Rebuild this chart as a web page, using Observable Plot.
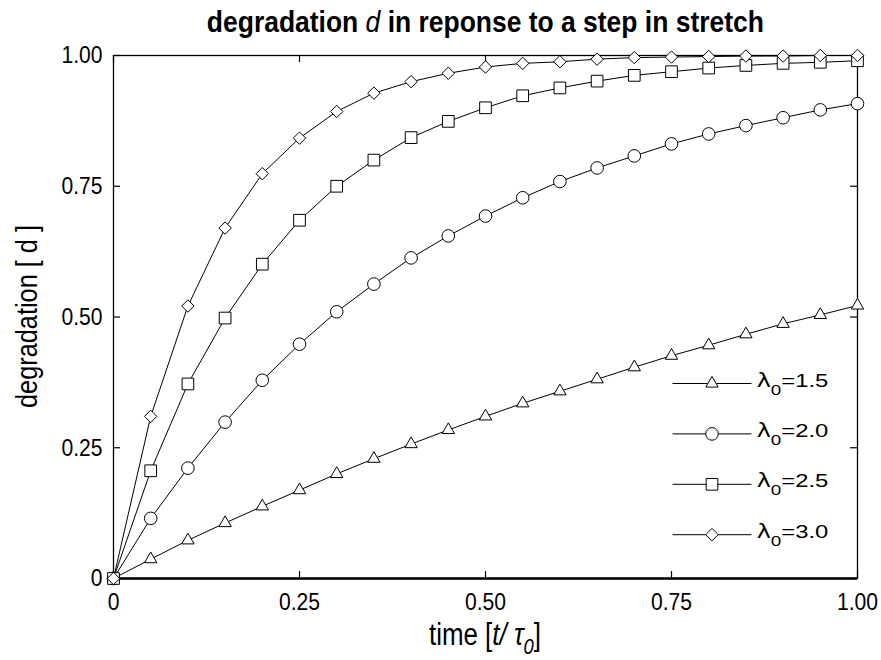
<!DOCTYPE html>
<html>
<head>
<meta charset="utf-8">
<script src="https://cdn.jsdelivr.net/npm/d3@7"></script>
<script src="https://cdn.jsdelivr.net/npm/@observablehq/plot@0.6"></script>
<style>
  html, body { margin: 0; padding: 0; background: white; }
  #wrap { width: 881px; height: 660px; position: relative; overflow: hidden; }
  #title {
    position: absolute; left: 113px; width: 744px; top: 2px; height: 40px;
    text-align: center; white-space: nowrap;
    font-family: 'Liberation Sans', Arial, sans-serif;
    font-weight: bold; font-size: 29px; line-height: 40px; color: black;
  }
  #title span { display: inline-block; transform-origin: 50% 50%; }
  #title i { font-weight: normal; }
  #chart { position: absolute; left: 0; top: 40px; }
</style>
</head>
<body>
<div id="wrap">
  <div id="title"><span id="titleText">degradation <i>d</i> in reponse to a step in stretch</span></div>
  <div id="chart"></div>
</div>
<script>
// ---- data ----
const time = [0, 0.05, 0.10, 0.15, 0.20, 0.25, 0.30, 0.35, 0.40, 0.45, 0.50,
              0.55, 0.60, 0.65, 0.70, 0.75, 0.80, 0.85, 0.90, 0.95, 1.00];
const d_l15 = [0, 0.037, 0.073, 0.106, 0.138, 0.169, 0.200, 0.229, 0.257, 0.284, 0.310,
               0.335, 0.358, 0.381, 0.404, 0.426, 0.446, 0.467, 0.487, 0.504, 0.522];
const d_l20 = [0, 0.115, 0.211, 0.299, 0.379, 0.448, 0.510, 0.563, 0.613, 0.655, 0.693,
               0.728, 0.759, 0.785, 0.808, 0.831, 0.850, 0.866, 0.881, 0.896, 0.908];
const d_l25 = [0, 0.206, 0.372, 0.498, 0.601, 0.685, 0.750, 0.800, 0.843, 0.874, 0.900,
               0.923, 0.938, 0.951, 0.962, 0.969, 0.976, 0.981, 0.985, 0.987, 0.990];
const d_l30 = [0, 0.310, 0.521, 0.670, 0.774, 0.842, 0.893, 0.928, 0.950, 0.966, 0.978,
               0.985, 0.988, 0.993, 0.996, 0.997, 0.998, 0.999, 0.999, 1.000, 1.000];
const seriesNames = ["1.5", "2.0", "2.5", "3.0"];
const seriesValues = [d_l15, d_l20, d_l25, d_l30];
const seriesSymbols = ["triangle", "circle", "square", "diamond2"];
const xTicks = [0, 0.25, 0.5, 0.75, 1];
const yTicks = [0, 0.25, 0.5, 0.75, 1];
const xLabel = "time";
const yLabel = "degradation [ d ]";

// ---- layout / style ----
const SANS = "'Liberation Sans', Arial, sans-serif";
const W = 881, H = 620;
const M = {top: 15, right: 24, bottom: 82, left: 113};
const plotW = W - M.left - M.right;
const plotH = H - M.top - M.bottom;
const TICK = 7;
const NARROW_FACTOR = 0.86;
const symbolR = {triangle: 4.6, circle: 6.3, square: 6.6, diamond2: 5.6};
const fmt = d => d === 0 ? "0" : d.toFixed(2);

const rows = seriesNames.flatMap((s, i) => time.map((t, j) => ({series: s, t, d: seriesValues[i][j]})));

const symbolD3 = {triangle: d3.symbolTriangle, circle: d3.symbolCircle, square: d3.symbolSquare, diamond2: d3.symbolDiamond2};

function labels(index, scales, values, dims) {
  const g = d3.create("svg:g").attr("font-family", SANS).attr("fill", "black");
  const cy = dims.marginTop + (dims.height - dims.marginTop - dims.marginBottom) / 2;
  g.append("text").attr("class", "custom")
    .attr("transform", `translate(37,${cy}) rotate(-90)`)
    .attr("text-anchor", "middle").attr("font-size", 30)
    .attr("textLength", 183).attr("lengthAdjust", "spacingAndGlyphs")
    .text(yLabel);
  const cx = dims.marginLeft + (dims.width - dims.marginLeft - dims.marginRight) / 2;
  const t = g.append("text").attr("class", "custom")
    .attr("x", cx).attr("y", dims.height - dims.marginBottom + 67)
    .attr("text-anchor", "middle").attr("font-size", 31)
    .attr("textLength", 112).attr("lengthAdjust", "spacingAndGlyphs");
  t.append("tspan").text(xLabel + " [");
  t.append("tspan").attr("font-style", "italic").text("t/ \u03C4");
  t.append("tspan").attr("font-style", "italic").attr("font-size", 22).attr("dy", 9).text("0");
  t.append("tspan").attr("dy", -9).text("]");
  return g.node();
}

function legend(index, scales, values, dims) {
  const right = dims.width - dims.marginRight;
  const bottom = dims.height - dims.marginBottom;
  const g = d3.create("svg:g");
  seriesNames.forEach((s, i) => {
    const y = bottom - 194.5 + i * 50.4;
    const row = g.append("g");
    row.append("line").attr("x1", right - 184.5).attr("x2", right - 105.5)
      .attr("y1", y).attr("y2", y).attr("stroke", "black").attr("stroke-width", 1);
    const sym = seriesSymbols[i];
    row.append("path")
      .attr("d", d3.symbol(symbolD3[sym], Math.PI * symbolR[sym] ** 2)())
      .attr("transform", `translate(${right - 145},${y})`)
      .attr("fill", "white").attr("stroke", "black").attr("stroke-width", 1);
    const txt = row.append("text").attr("class", "custom")
      .attr("x", right - 100.3).attr("y", y + 3)
      .attr("text-anchor", "start")
      .attr("font-family", SANS).attr("font-size", 19).attr("fill", "black")
      .attr("textLength", 71.6).attr("lengthAdjust", "spacingAndGlyphs");
    txt.append("tspan").attr("font-family", "'DejaVu Sans', sans-serif").attr("font-size", 19).text("\u03BB");
    txt.append("tspan").attr("font-size", 15).attr("dy", 8).text("0");
    txt.append("tspan").attr("dy", -8).text("=" + s);
  });
  return g.node();
}

const marks = [
  Plot.frame({stroke: "black", strokeWidth: 1.3}),
  Plot.ruleY([0], {stroke: "black", strokeWidth: 2.4}),
  Plot.tickX(xTicks, {x: d => d, insetTop: plotH - TICK, stroke: "black", strokeWidth: 1.2}),
  Plot.tickX(xTicks, {x: d => d, insetBottom: plotH - TICK, stroke: "black", strokeWidth: 1.2}),
  Plot.tickY(yTicks, {y: d => d, insetRight: plotW - TICK, stroke: "black", strokeWidth: 1.2}),
  Plot.tickY(yTicks, {y: d => d, insetLeft: plotW - TICK, stroke: "black", strokeWidth: 1.2}),
  Plot.line(rows, {x: "t", y: "d", z: "series", stroke: "black", strokeWidth: 1}),
  ...seriesNames.map((s, i) => Plot.dot(rows.filter(r => r.series === s), {
    x: "t", y: "d", symbol: seriesSymbols[i], r: symbolR[seriesSymbols[i]],
    fill: "white", stroke: "black", strokeWidth: 1
  })),
  labels,
  legend
];

const chart = Plot.plot({
  width: W, height: H,
  marginTop: M.top, marginRight: M.right, marginBottom: M.bottom, marginLeft: M.left,
  style: {fontFamily: SANS, fontSize: "24.5px", color: "black", background: "white", overflow: "visible"},
  x: {domain: [0, 1], ticks: xTicks, tickSize: 0, tickPadding: 14, tickFormat: fmt, label: null},
  y: {domain: [0, 1], ticks: yTicks, tickSize: 0, tickPadding: 11, tickFormat: fmt, label: null},
  marks
});
document.getElementById("chart").appendChild(chart);

// condense axis tick labels (narrow face look)
d3.select(chart).selectAll("text:not(.custom)").each(function() {
  const len = this.getComputedTextLength();
  if (len > 0) {
    this.setAttribute("textLength", (len * NARROW_FACTOR).toFixed(2));
    this.setAttribute("lengthAdjust", "spacingAndGlyphs");
  }
});

// fit the title to the reference width
const ts = document.getElementById("titleText");
const tw = ts.getBoundingClientRect().width;
ts.style.transform = `scaleX(${(557 / tw).toFixed(4)})`;
</script>
</body>
</html>
